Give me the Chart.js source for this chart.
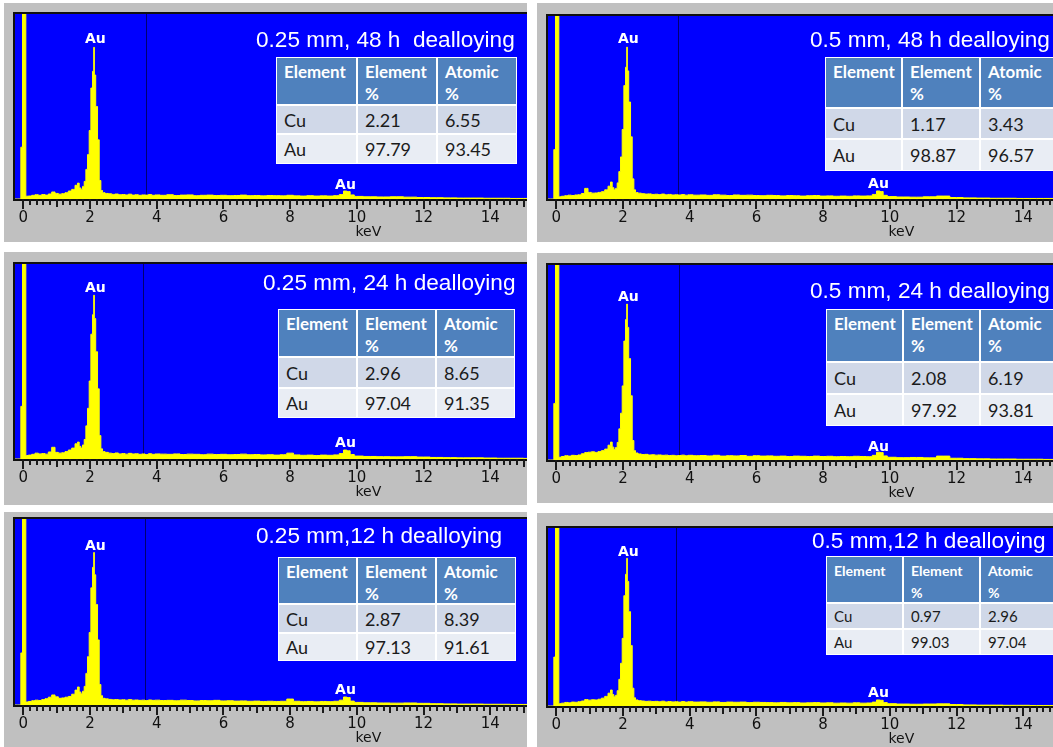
<!DOCTYPE html>
<html>
<head>
<meta charset="utf-8">
<script src="https://cdn.jsdelivr.net/npm/chart.js@4.4.0/dist/chart.umd.min.js"></script>
<style>
  html, body { margin: 0; padding: 0; background: #fff; overflow: hidden; }
  #page { position: relative; width: 1053px; height: 747px; overflow: hidden; }
  .panel { position: absolute; background: #c0c0c0; overflow: hidden; }
  .panel canvas { position: absolute; left: 0; top: 0; }
  .title { position: absolute; color: #fff; font: 22.6px 'Liberation Sans', Arial, sans-serif; line-height: 22px; white-space: pre; }
  .eds { position: absolute; display: grid; background: #fff; gap: 2px; padding: 1px; font-family: Lato, sans-serif; }
  .eds div { color: #1b1b1b; padding-left: 7px; display: flex; align-items: center; white-space: nowrap; }
  .eds .hd { background: #4f81bd; color: #fff; font-weight: bold; display: block; padding-top: 3px; line-height: 22px; white-space: pre-line; font-size: 0.94em; }
  .eds .r1 { background: #d0d8e8; }
  .eds .r2 { background: #e9edf4; }
</style>
</head>
<body>
<div id="page"></div>
<script>
// energy channels (keV), shared by all six spectra
const energies = [
  -0.25, -0.1, -0.05, 0, 0.05, 0.1,
  0.2, 0.3, 0.4, 0.5, 0.6, 0.7, 0.8, 0.9, 1.0, 1.1, 1.2, 1.3, 1.4, 1.5, 1.6,
  1.65, 1.7, 1.75, 1.8, 1.85, 1.9, 1.95, 2.0, 2.05, 2.1,
  2.12, 2.14,
  2.2, 2.25, 2.3, 2.35, 2.4,
  2.5, 2.6, 2.7, 2.8, 2.9, 3.0, 3.1, 3.2, 3.3, 3.4, 3.5, 3.6, 3.7, 3.8, 3.9, 4.0,
  4.2, 4.4, 4.6, 4.8, 5.0, 5.2, 5.4, 5.6, 5.8, 6.0, 6.2, 6.4, 6.6, 6.8, 7.0, 7.2, 7.4, 7.6, 7.8, 8.0, 8.2, 8.4, 8.6, 8.8, 9.0, 9.2, 9.4,
  9.55, 9.65, 9.75, 9.85,
  10.0, 10.4, 10.8, 11.2, 11.6, 12.0, 12.4, 12.8, 13.2, 13.6, 14.0, 14.4, 14.8, 15.2
];

// counts, in % of full scale
const s025_48 = [
  0, 0, 28, 150, 150, 1.5,
  1.6, 2.0, 2.3, 2.0, 2.4, 2.1, 2.7, 3.8, 3.0, 2.6, 2.9, 3.4, 4.3, 5.2, 7.4,
  8.6, 6.0, 5.2, 6.8, 9.5, 16, 24, 37, 60, 69,
  82, 67,
  50, 32, 10, 4.6, 3.4,
  3.0, 2.8, 2.5, 2.7, 2.3, 2.4, 2.2, 2.6, 2.1, 2.3, 2.0, 2.2, 2.1, 2.4, 2.0, 2.2,
  2.0, 2.3, 1.9, 2.1, 2.2, 1.8, 2.0, 2.1, 1.9, 2.0, 1.8, 1.9, 2.1, 1.8, 1.9, 1.7, 1.9, 1.8, 1.7, 2.0, 1.7, 1.6, 1.8, 1.6, 1.7, 1.6, 1.8,
  2.4, 4.3, 4.0, 2.2,
  1.4, 1.2, 1.1, 1.2, 1.0, 0.8, 0.7, 0.6, 0.5, 0.5, 0.4, 0.4, 0.3, 0.3
];
const s05_48 = [
  0, 0, 27, 150, 150, 1.2,
  1.5, 1.8, 2.1, 1.9, 2.2, 2.3, 3.0, 5.8, 3.6, 3.2, 3.3, 3.6, 4.0, 5.0, 7.0,
  9.3, 6.2, 5.0, 5.8, 8.8, 15, 23, 38, 62, 72,
  83, 70,
  53, 34, 11, 5.0, 3.5,
  3.2, 2.9, 2.7, 2.8, 2.5, 2.6, 2.4, 2.7, 2.3, 2.5, 2.2, 2.3, 2.2, 2.4, 2.1, 2.3,
  2.1, 2.2, 2.0, 2.3, 2.1, 1.9, 2.2, 2.0, 2.1, 1.9, 1.8, 2.0, 1.9, 1.7, 1.9, 1.8, 1.6, 1.8, 1.9, 1.6, 1.7, 1.5, 1.6, 1.5, 1.7, 1.6, 1.7,
  2.5, 4.4, 4.1, 2.0,
  1.3, 1.1, 1.0, 1.2, 1.6, 0.8, 0.6, 0.5, 0.4, 0.4, 0.3, 0.3, 0.3, 0.2
];
const s025_24 = [
  0, 0, 27, 150, 150, 1.8,
  2.0, 2.4, 3.0, 2.6, 2.8, 2.5, 3.6, 6.0, 3.4, 3.0, 3.2, 3.8, 4.6, 5.6, 7.8,
  8.7, 6.5, 5.6, 7.2, 10, 17, 26, 40, 64, 74,
  84, 72,
  55, 36, 12, 5.2, 3.8,
  3.4, 3.0, 2.8, 3.1, 2.6, 2.8, 2.5, 2.9, 2.6, 2.7, 2.4, 2.6, 2.3, 2.7, 2.4, 2.6,
  2.5, 2.4, 2.6, 2.3, 2.5, 2.4, 2.2, 2.5, 2.3, 2.4, 2.2, 2.3, 2.5, 2.2, 2.3, 2.1, 2.2, 2.0, 2.2, 3.0, 2.1, 1.9, 2.0, 1.8, 2.0, 1.9, 2.1,
  2.8, 4.6, 4.2, 2.3,
  1.5, 1.3, 1.2, 1.1, 1.2, 1.0, 0.8, 0.7, 0.6, 0.6, 0.5, 0.4, 0.4, 0.3
];
const s05_24 = [
  0, 0, 29, 150, 150, 1.4,
  1.8, 2.2, 2.0, 2.4, 2.3, 2.6, 3.2, 3.8, 4.0, 4.2, 3.9, 4.3, 4.8, 5.6, 7.6,
  9.2, 6.6, 5.4, 6.4, 9.0, 16, 24, 38, 61, 72,
  80, 68,
  52, 33, 10, 4.8, 3.6,
  3.1, 2.8, 2.9, 2.6, 2.7, 2.5, 2.6, 2.4, 2.5, 2.3, 2.4, 2.2, 2.3, 2.5, 2.2, 2.4,
  2.2, 2.3, 2.1, 2.4, 2.0, 2.2, 2.1, 2.3, 1.9, 2.2, 2.0, 2.1, 1.9, 2.0, 1.8, 2.0, 1.9, 1.8, 2.0, 1.8, 1.9, 1.7, 1.8, 1.7, 1.9, 1.8, 1.7,
  2.4, 4.0, 3.8, 2.1,
  1.4, 1.2, 1.3, 1.1, 2.0, 0.9, 0.7, 0.6, 0.5, 0.5, 0.4, 0.4, 0.3, 0.3
];
const s025_12 = [
  0, 0, 28, 150, 150, 1.6,
  1.9, 2.3, 2.6, 2.4, 2.9, 3.4, 4.2, 5.4, 4.4, 3.6, 3.8, 4.2, 4.6, 5.8, 8.0,
  9.7, 7.0, 6.0, 7.4, 10, 17, 26, 39, 63, 74,
  82, 70,
  54, 35, 11, 5.0, 3.6,
  3.3, 3.0, 2.8, 2.9, 2.7, 2.8, 2.6, 2.9, 2.6, 2.7, 2.5, 2.6, 2.4, 2.7, 2.5, 2.6,
  2.4, 2.5, 2.3, 2.6, 2.4, 2.2, 2.4, 2.3, 2.5, 2.2, 2.3, 2.1, 2.2, 2.0, 2.1, 1.9, 2.0, 1.9, 2.0, 3.2, 2.0, 1.8, 1.9, 1.7, 1.9, 1.8, 2.0,
  2.6, 4.3, 4.0, 2.1,
  1.4, 1.2, 1.1, 1.0, 1.1, 0.9, 0.7, 0.6, 0.5, 0.5, 0.4, 0.4, 0.3, 0.3
];
const s05_12 = [
  0, 0, 27.5, 150, 150, 1.3,
  1.6, 2.0, 1.8, 2.2, 2.1, 2.4, 2.8, 3.6, 3.3, 3.5, 3.4, 3.8, 4.4, 5.4, 7.2,
  9.0, 6.4, 5.2, 6.0, 8.6, 15, 24, 38, 62, 74,
  83, 70,
  53, 34, 10, 4.6, 3.4,
  3.0, 2.8, 2.6, 2.7, 2.5, 2.6, 2.4, 2.7, 2.3, 2.5, 2.3, 2.4, 2.2, 2.5, 2.2, 2.4,
  2.2, 2.3, 2.1, 2.3, 2.0, 2.2, 2.1, 2.2, 1.9, 2.1, 2.0, 1.9, 1.8, 2.0, 1.8, 1.9, 1.7, 1.8, 1.9, 1.7, 1.8, 1.6, 1.7, 1.6, 1.8, 1.6, 1.7,
  2.2, 3.4, 3.2, 1.9,
  1.3, 1.1, 1.0, 1.1, 1.2, 0.8, 0.6, 0.5, 0.5, 0.4, 0.4, 0.3, 0.3, 0.2
];

// panels in reading order: left/right, 48 h, 24 h, 12 h
const spectra = [s025_48, s05_48, s025_24, s05_24, s025_12, s05_12];
const titles = ['0.25 mm, 48 h  dealloying', '0.5 mm, 48 h dealloying',
                '0.25 mm, 24 h dealloying', '0.5 mm, 24 h dealloying',
                '0.25 mm,12 h dealloying', '0.5 mm,12 h dealloying'];
const elements = ['Cu', 'Au'];
const elementPct = [[2.21, 97.79], [1.17, 98.87], [2.96, 97.04], [2.08, 97.92], [2.87, 97.13], [0.97, 99.03]];
const atomicPct = [[6.55, 93.45], [3.43, 96.57], [8.65, 91.35], [6.19, 93.81], [8.39, 91.61], [2.96, 97.04]];
const peakNames = ['Au', 'Au'];
const peakLabelE = [2.16, 9.66];
const peakLabelY = [[86.5, 7.6], [87.4, 8.2], [87.7, 8.2], [83.6, 6.7], [85.5, 8.0], [86.5, 7.3]];
const cursorE = [3.69, 3.66, 3.6, 3.68, 3.66, 3.59];
const tickLabels = [0, 2, 4, 6, 8, 10, 12, 14, 16, 18, 20];

// layout
const X_MIN = -0.25, X_MAX = 20.94;
const PLOT_W = 712, PAD_L = 11, AXIS_H = 44;
const boxes = [
  {x: 4, y: 3, w: 523, h: 239, top: 11, axis: 196},
  {x: 537, y: 3, w: 516, h: 239, top: 13, axis: 196},
  {x: 4, y: 252, w: 523, h: 253, top: 12, axis: 207},
  {x: 537, y: 253, w: 516, h: 250, top: 12, axis: 207},
  {x: 4, y: 512, w: 523, h: 235, top: 7, axis: 193},
  {x: 537, y: 513, w: 516, h: 234, top: 15, axis: 193}
];
const titlePos = [[256, 29], [810, 29], [263, 272], [810, 280], [256, 525], [812, 530]];
const tableBoxes = [
  {x: 276, y: 57, cols: [79, 78, 78], rows: [46, 27, 28], fs: 18},
  {x: 825, y: 57, cols: [75, 76, 76], rows: [49, 29, 30], fs: 18},
  {x: 278, y: 309, cols: [77, 77, 77], rows: [46, 29, 28], fs: 18},
  {x: 826, y: 309, cols: [75, 75, 76], rows: [51, 30, 30], fs: 18},
  {x: 278, y: 557, cols: [77, 77, 78], rows: [45, 27, 26], fs: 18},
  {x: 826, y: 556, cols: [75, 75, 76], rows: [45, 24, 24], fs: 15}
];

const page = document.getElementById('page');

function edsPlugin(i) {
  return {
    id: 'eds' + i,
    beforeDraw(chart) {
      const {ctx, chartArea: a, scales: {x}} = chart;
      ctx.save();
      ctx.fillStyle = '#0000ff';
      ctx.fillRect(a.left, a.top, a.right - a.left, a.bottom - a.top);
      const cx = Math.round(x.getPixelForValue(cursorE[i])) + 0.5;
      ctx.strokeStyle = '#000070';
      ctx.lineWidth = 1;
      ctx.beginPath();
      ctx.moveTo(cx, a.top);
      ctx.lineTo(cx, a.bottom);
      ctx.stroke();
      ctx.restore();
    },
    afterDraw(chart) {
      const {ctx, chartArea: a, scales: {x, y}} = chart;
      ctx.save();
      ctx.strokeStyle = '#101010';
      ctx.lineWidth = 2;
      ctx.strokeRect(a.left - 1, a.top - 1, a.right - a.left + 2, a.bottom - a.top + 2);
      ctx.strokeStyle = '#1a1a1a';
      x.ticks.forEach(t => {
        if (t.value < 0) return;
        const px = Math.round(x.getPixelForValue(t.value));
        const k = Math.round(t.value * 5);
        const len = k % 10 === 0 ? 10 : (k % 5 === 0 ? 8 : 6);
        ctx.beginPath();
        ctx.moveTo(px, a.bottom);
        ctx.lineTo(px, a.bottom + len);
        ctx.stroke();
      });
      ctx.fillStyle = '#fff';
      ctx.font = 'bold 14px "DejaVu Sans"';
      ctx.textAlign = 'center';
      ctx.textBaseline = 'middle';
      peakNames.forEach((name, j) => {
        ctx.fillText(name, x.getPixelForValue(peakLabelE[j]), y.getPixelForValue(peakLabelY[i][j]));
      });
      ctx.restore();
    }
  };
}

boxes.forEach((b, i) => {
  const panel = document.createElement('div');
  panel.className = 'panel';
  Object.assign(panel.style, {left: b.x + 'px', top: b.y + 'px', width: b.w + 'px', height: b.h + 'px'});
  const canvas = document.createElement('canvas');
  const cw = PAD_L + PLOT_W, ch = b.axis + AXIS_H;
  canvas.width = cw; canvas.height = ch;
  canvas.style.width = cw + 'px'; canvas.style.height = ch + 'px';
  panel.appendChild(canvas);
  page.appendChild(panel);

  new Chart(canvas, {
    type: 'line',
    data: {
      datasets: [{
        data: energies.map((e, k) => ({x: e, y: spectra[i][k]})),
        stepped: 'middle',
        borderColor: '#ffff00',
        borderWidth: 1,
        backgroundColor: '#ffff00',
        fill: 'origin',
        pointRadius: 0
      }]
    },
    options: {
      responsive: false,
      animation: false,
      events: [],
      layout: {padding: {left: PAD_L, top: b.top, right: 0, bottom: 0}},
      plugins: {legend: {display: false}, tooltip: {enabled: false}},
      scales: {
        x: {
          type: 'linear',
          min: X_MIN,
          max: X_MAX,
          afterBuildTicks: s => {
            const t = [];
            for (let k = 0; k <= 104; k++) t.push({value: k / 5});
            s.ticks = t;
          },
          afterFit: s => { s.height = AXIS_H; },
          grid: {display: false, drawTicks: false},
          border: {display: false},
          ticks: {
            autoSkip: false,
            maxRotation: 0,
            padding: 10,
            color: '#111',
            font: {family: 'DejaVu Sans', size: 15},
            callback: v => {
              const r = Math.round(v);
              return Math.abs(v - r) < 1e-6 && tickLabels.includes(r) ? String(r) : '';
            }
          },
          title: {
            display: true,
            text: 'keV',
            color: '#111',
            font: {family: 'DejaVu Sans', size: 14},
            padding: {top: 0, bottom: 2}
          }
        },
        y: {display: false, min: 0, max: 100}
      }
    },
    plugins: [edsPlugin(i)]
  });

  const title = document.createElement('div');
  title.className = 'title';
  title.textContent = titles[i];
  title.style.left = titlePos[i][0] + 'px';
  title.style.top = titlePos[i][1] + 'px';
  page.appendChild(title);

  const tb = tableBoxes[i];
  const table = document.createElement('div');
  table.className = 'eds';
  Object.assign(table.style, {
    left: tb.x + 'px', top: tb.y + 'px', fontSize: tb.fs + 'px',
    gridTemplateColumns: tb.cols.map(c => c + 'px').join(' '),
    gridTemplateRows: tb.rows.map(r => r + 'px').join(' ')
  });
  const cells = [
    ['hd', 'Element'], ['hd', 'Element\n%'], ['hd', 'Atomic\n%'],
    ['r1', elements[0]], ['r1', elementPct[i][0].toFixed(2)], ['r1', atomicPct[i][0].toFixed(2)],
    ['r2', elements[1]], ['r2', elementPct[i][1].toFixed(2)], ['r2', atomicPct[i][1].toFixed(2)]
  ];
  cells.forEach(([cls, txt]) => {
    const c = document.createElement('div');
    c.className = cls;
    c.textContent = txt;
    table.appendChild(c);
  });
  page.appendChild(table);
});
</script>
</body>
</html>
